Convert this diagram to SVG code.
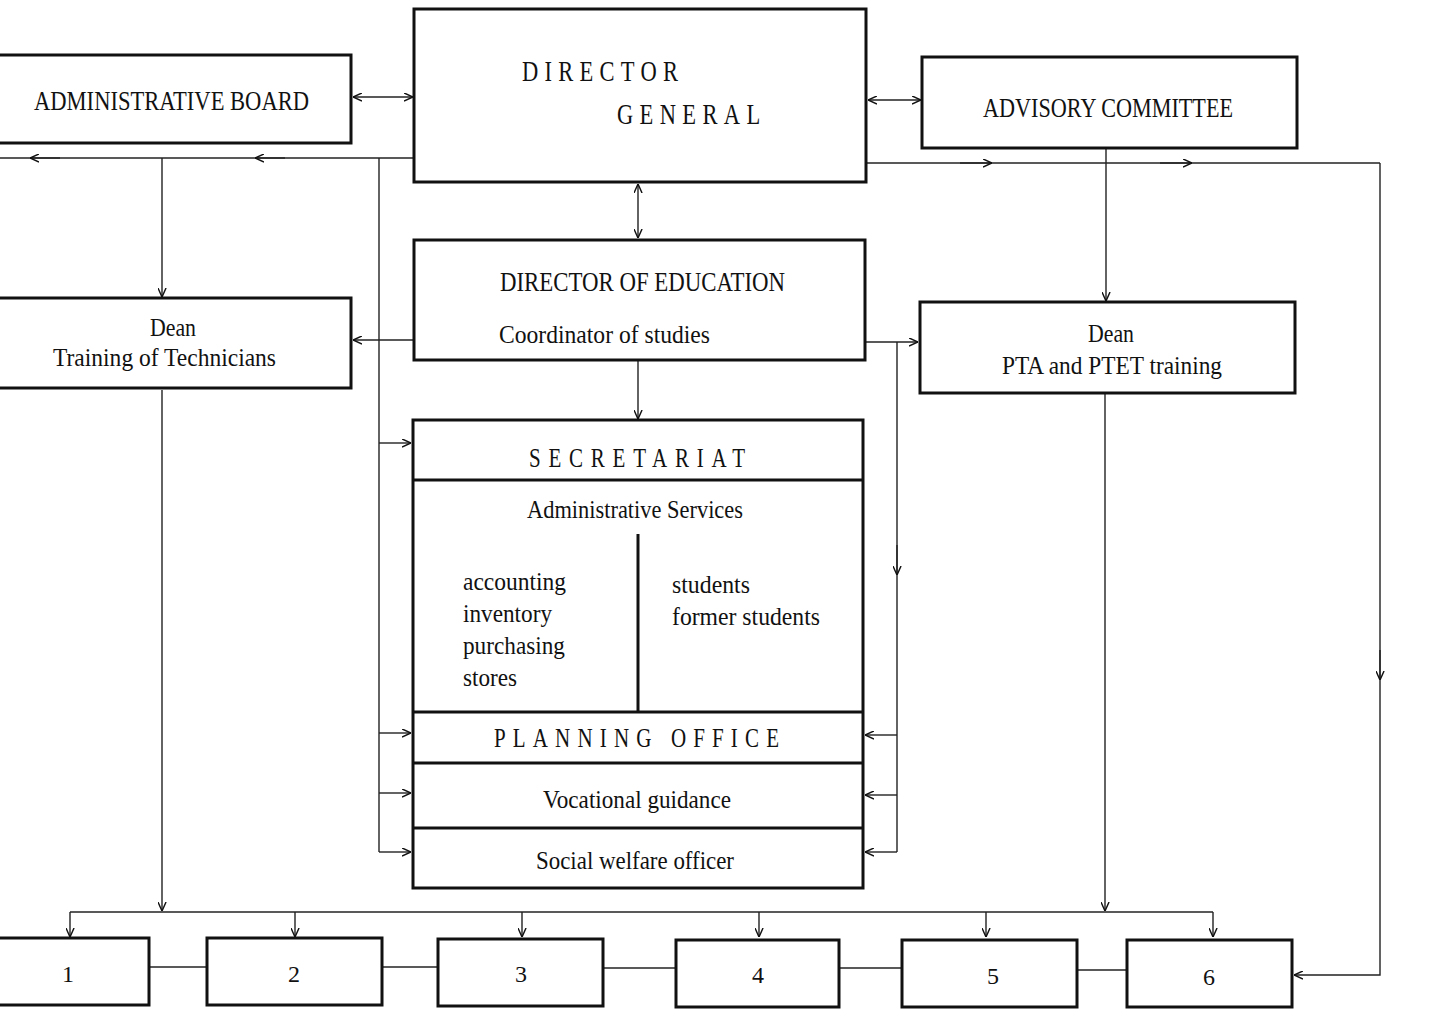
<svg xmlns="http://www.w3.org/2000/svg" width="1429" height="1011" viewBox="0 0 1429 1011">
  <style>
    .box { fill: #fff; stroke: #111; stroke-width: 3; }
    .div { stroke: #111; stroke-width: 3; fill: none; }
    .ln { stroke: #222; stroke-width: 1.4; fill: none; }
    .t { font-family: "Liberation Serif", "Times New Roman", serif; fill: #111; }
    .cap { font-size: 28px; }
    .mid { font-size: 26px; }
    .num { font-size: 24px; }
  </style>
  <defs>
    <marker id="ah" viewBox="0 0 10 10" refX="10" refY="5" markerWidth="9" markerHeight="9" markerUnits="userSpaceOnUse" orient="auto-start-reverse">
      <path d="M0,0.5 L10,5 L0,9.5" fill="none" stroke="#111" stroke-width="1.6"/>
    </marker>
  </defs>
  <rect width="1429" height="1011" fill="#fff"/>

  <!-- connectors -->
  <g id="connectors">
    <!-- board / director general / advisory committee -->
    <line class="ln" x1="353" y1="97" x2="413" y2="97" marker-start="url(#ah)" marker-end="url(#ah)"/>
    <line class="ln" x1="868" y1="100" x2="921" y2="100" marker-start="url(#ah)" marker-end="url(#ah)"/>
    <line class="ln" x1="638" y1="184" x2="638" y2="238" marker-start="url(#ah)" marker-end="url(#ah)"/>
    <!-- left distribution line -->
    <line class="ln" x1="0" y1="158" x2="414" y2="158"/>
    <line class="ln" x1="60" y1="158" x2="30" y2="158" marker-end="url(#ah)"/>
    <line class="ln" x1="285" y1="158" x2="255" y2="158" marker-end="url(#ah)"/>
    <line class="ln" x1="162" y1="158" x2="162" y2="297" marker-end="url(#ah)"/>
    <!-- right distribution line -->
    <line class="ln" x1="866" y1="163" x2="1380" y2="163"/>
    <line class="ln" x1="960" y1="163" x2="992" y2="163" marker-end="url(#ah)"/>
    <line class="ln" x1="1160" y1="163" x2="1192" y2="163" marker-end="url(#ah)"/>
    <line class="ln" x1="1106" y1="149" x2="1106" y2="301" marker-end="url(#ah)"/>
    <polyline class="ln" points="1380,163 1380,975 1294,975" marker-end="url(#ah)"/>
    <line class="ln" x1="1380" y1="650" x2="1380" y2="680" marker-end="url(#ah)"/>
    <!-- director of education -->
    <line class="ln" x1="413" y1="340" x2="353" y2="340" marker-end="url(#ah)"/>
    <line class="ln" x1="866" y1="342" x2="918" y2="342" marker-end="url(#ah)"/>
    <line class="ln" x1="638" y1="361" x2="638" y2="419" marker-end="url(#ah)"/>
    <!-- left feed into secretariat block -->
    <line class="ln" x1="379" y1="158" x2="379" y2="852"/>
    <line class="ln" x1="379" y1="443" x2="411" y2="443" marker-end="url(#ah)"/>
    <line class="ln" x1="379" y1="733" x2="411" y2="733" marker-end="url(#ah)"/>
    <line class="ln" x1="379" y1="793" x2="411" y2="793" marker-end="url(#ah)"/>
    <line class="ln" x1="379" y1="852" x2="411" y2="852" marker-end="url(#ah)"/>
    <!-- right feed into secretariat block -->
    <line class="ln" x1="897" y1="342" x2="897" y2="852"/>
    <line class="ln" x1="897" y1="545" x2="897" y2="575" marker-end="url(#ah)"/>
    <line class="ln" x1="897" y1="735" x2="865" y2="735" marker-end="url(#ah)"/>
    <line class="ln" x1="897" y1="795" x2="865" y2="795" marker-end="url(#ah)"/>
    <line class="ln" x1="897" y1="852" x2="865" y2="852" marker-end="url(#ah)"/>
    <!-- deans down to the bus -->
    <line class="ln" x1="162" y1="390" x2="162" y2="911" marker-end="url(#ah)"/>
    <line class="ln" x1="1105" y1="394" x2="1105" y2="911" marker-end="url(#ah)"/>
    <!-- bus to the six units -->
    <line class="ln" x1="70" y1="912" x2="1213" y2="912"/>
    <line class="ln" x1="70" y1="912" x2="70" y2="937" marker-end="url(#ah)"/>
    <line class="ln" x1="295" y1="912" x2="295" y2="937" marker-end="url(#ah)"/>
    <line class="ln" x1="522" y1="912" x2="522" y2="937" marker-end="url(#ah)"/>
    <line class="ln" x1="759" y1="912" x2="759" y2="937" marker-end="url(#ah)"/>
    <line class="ln" x1="986" y1="912" x2="986" y2="937" marker-end="url(#ah)"/>
    <line class="ln" x1="1213" y1="912" x2="1213" y2="937" marker-end="url(#ah)"/>
    <!-- links between units -->
    <line class="ln" x1="149" y1="967" x2="207" y2="967"/>
    <line class="ln" x1="382" y1="967" x2="438" y2="967"/>
    <line class="ln" x1="603" y1="968" x2="676" y2="968"/>
    <line class="ln" x1="839" y1="968" x2="902" y2="968"/>
    <line class="ln" x1="1077" y1="970" x2="1127" y2="970"/>
  </g>

  <g id="administrative-board">
    <rect class="box" x="-3" y="55" width="354" height="88"/>
    <text class="t cap" x="34" y="110" textLength="275" lengthAdjust="spacingAndGlyphs">ADMINISTRATIVE BOARD</text>
  </g>

  <!-- spaced headings use narrow glyphs: scaled horizontally, spacing fills the width -->
  <g id="director-general">
    <rect class="box" x="414" y="9" width="452" height="173"/>
    <text class="t" font-size="30" transform="translate(522,81) scale(0.75,1)" textLength="208" lengthAdjust="spacing">DIRECTOR</text>
    <text class="t" font-size="30" transform="translate(617,124) scale(0.75,1)" textLength="191" lengthAdjust="spacing">GENERAL</text>
  </g>

  <g id="advisory-committee">
    <rect class="box" x="922" y="57" width="375" height="91"/>
    <text class="t cap" x="983" y="117" textLength="250" lengthAdjust="spacingAndGlyphs">ADVISORY COMMITTEE</text>
  </g>

  <g id="director-of-education">
    <rect class="box" x="414" y="240" width="451" height="120"/>
    <text class="t cap" x="500" y="291" textLength="285" lengthAdjust="spacingAndGlyphs">DIRECTOR OF EDUCATION</text>
    <text class="t mid" x="499" y="343" textLength="211" lengthAdjust="spacingAndGlyphs">Coordinator of studies</text>
  </g>

  <g id="dean-technicians">
    <rect class="box" x="-3" y="298" width="354" height="90"/>
    <text class="t mid" x="150" y="336" textLength="46" lengthAdjust="spacingAndGlyphs">Dean</text>
    <text class="t mid" x="53" y="366" textLength="223" lengthAdjust="spacingAndGlyphs">Training of Technicians</text>
  </g>

  <g id="dean-pta-ptet">
    <rect class="box" x="920" y="302" width="375" height="91"/>
    <text class="t mid" x="1088" y="342" textLength="46" lengthAdjust="spacingAndGlyphs">Dean</text>
    <text class="t mid" x="1002" y="374" textLength="220" lengthAdjust="spacingAndGlyphs">PTA and PTET training</text>
  </g>

  <g id="secretariat">
    <rect class="box" x="413" y="420" width="450" height="468"/>
    <line class="div" x1="413" y1="480" x2="863" y2="480"/>
    <line class="div" x1="413" y1="712" x2="863" y2="712"/>
    <line class="div" x1="413" y1="763" x2="863" y2="763"/>
    <line class="div" x1="413" y1="828" x2="863" y2="828"/>
    <line class="div" x1="638" y1="534" x2="638" y2="711"/>
    <text class="t cap" transform="translate(529,467) scale(0.75,1)" textLength="288" lengthAdjust="spacing">SECRETARIAT</text>
    <text class="t mid" x="527" y="518" textLength="216" lengthAdjust="spacingAndGlyphs">Administrative Services</text>
    <text class="t mid" x="463" y="590" textLength="103" lengthAdjust="spacingAndGlyphs">accounting</text>
    <text class="t mid" x="463" y="622" textLength="89" lengthAdjust="spacingAndGlyphs">inventory</text>
    <text class="t mid" x="463" y="654" textLength="102" lengthAdjust="spacingAndGlyphs">purchasing</text>
    <text class="t mid" x="463" y="686" textLength="54" lengthAdjust="spacingAndGlyphs">stores</text>
    <text class="t mid" x="672" y="593" textLength="78" lengthAdjust="spacingAndGlyphs">students</text>
    <text class="t mid" x="672" y="625" textLength="148" lengthAdjust="spacingAndGlyphs">former students</text>
    <text class="t cap" transform="translate(494,747) scale(0.75,1)" textLength="380" lengthAdjust="spacing">PLANNING OFFICE</text>
    <text class="t mid" x="543" y="808" textLength="188" lengthAdjust="spacingAndGlyphs">Vocational guidance</text>
    <text class="t mid" x="536" y="869" textLength="198" lengthAdjust="spacingAndGlyphs">Social welfare officer</text>
  </g>

  <g id="unit-1">
    <rect class="box" x="-3" y="938" width="152" height="67"/>
    <text class="t num" x="68" y="982" text-anchor="middle">1</text>
  </g>
  <g id="unit-2">
    <rect class="box" x="207" y="938" width="175" height="67"/>
    <text class="t num" x="294" y="982" text-anchor="middle">2</text>
  </g>
  <g id="unit-3">
    <rect class="box" x="438" y="939" width="165" height="67"/>
    <text class="t num" x="521" y="982" text-anchor="middle">3</text>
  </g>
  <g id="unit-4">
    <rect class="box" x="676" y="940" width="163" height="67"/>
    <text class="t num" x="758" y="983" text-anchor="middle">4</text>
  </g>
  <g id="unit-5">
    <rect class="box" x="902" y="940" width="175" height="67"/>
    <text class="t num" x="993" y="984" text-anchor="middle">5</text>
  </g>
  <g id="unit-6">
    <rect class="box" x="1127" y="940" width="165" height="67"/>
    <text class="t num" x="1209" y="985" text-anchor="middle">6</text>
  </g>
</svg>
